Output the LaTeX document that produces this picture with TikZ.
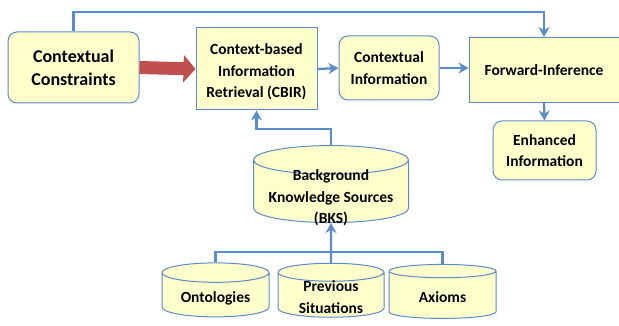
\documentclass[tikz,border=0pt]{standalone}
\usepackage{fontspec}
\setmainfont{Carlito}
\usetikzlibrary{arrows.meta,shapes.geometric,calc}
\definecolor{boxfill}{HTML}{FFFFCC}
\definecolor{boxline}{HTML}{5B8BC9}
\definecolor{bigred}{HTML}{C0504D}
\newcommand{\padtop}[1]{\rule{0pt}{#1}}
% text of a cylinder, lowered by #1 without changing the shape
\newcommand{\dblabel}[2]{\raisebox{#1}[0pt][0pt]{\begin{tabular}{@{}c@{}}#2\end{tabular}}}

\begin{document}
\begin{tikzpicture}[x=1pt, y=-1pt,
  box/.style={draw=boxline, fill=boxfill, line width=1pt, align=center, inner sep=0pt, font=\fontsize{15.5}{21.5}\selectfont\bfseries},
  round box/.style={box, rounded corners=9pt},
  db/.style={box, cylinder, shape border rotate=90},
  link/.style={draw=boxline, line width=2.3pt, -{Stealth[length=10pt,width=11pt]}},
  wire/.style={draw=boxline, line width=2.3pt}]
\useasboundingbox (0,0) rectangle (619,326);
\node[round box, minimum width=131pt, minimum height=71pt, font=\fontsize{18}{23}\selectfont\bfseries] (cc) at (73.5,67.5) {Contextual\\Constraints};
\node[box, minimum width=121pt, minimum height=82pt] (cbir) at (256.5,69) {\padtop{17pt}Context-based\\Information\\Retrieval (CBIR)};
\node[round box, minimum width=100pt, minimum height=64pt] (ci) at (389,68) {Contextual\\Information};
\node[box, minimum width=150pt, minimum height=65pt] (fi) at (544,70) {Forward-Inference};
\node[round box, minimum width=103pt, minimum height=59pt] (ei) at (544.5,150.5) {Enhanced\\Information};
\node[db, aspect=0.23, minimum width=155pt, minimum height=77pt] (bks) at (331,191.5) {\dblabel{-10pt}{Background\\Knowledge Sources\\(BKS)}};
\node[db, aspect=0.28, minimum width=107pt, minimum height=54pt] (ont) at (215.5,295) {\dblabel{-7pt}{Ontologies}};
\node[db, aspect=0.28, minimum width=106pt, minimum height=54pt] (prev) at (331,295) {\dblabel{-7pt}{Previous\\Situations}};
\node[db, aspect=0.28, minimum width=107pt, minimum height=54pt] (axi) at (442.5,295) {\dblabel{-7pt}{Axioms}};
\coordinate (top) at (0,12);
\coordinate (mid) at (0,129);
\coordinate (low) at (0,252);
% connectors
\draw[bigred, line width=13pt, -{Triangle[length=12pt,width=27pt]}] (cc.east) -- (cbir.west);
\draw[link] (cbir.east) -- (ci.west);
\draw[link] (ci.east) -- (ci.east -| fi.west);
\draw[link] (cc.north) -- (cc.north |- top) -| (fi.north);
\draw[link] (fi.south) -- (ei.north);
\draw[link] (bks.north) -- (bks.north |- mid) -| (cbir.south);
\draw[wire] (ont.north) -- (ont.north |- low) -| (axi.north);
\draw[link] (prev.north) -- (bks.south);
\end{tikzpicture}
\end{document}
